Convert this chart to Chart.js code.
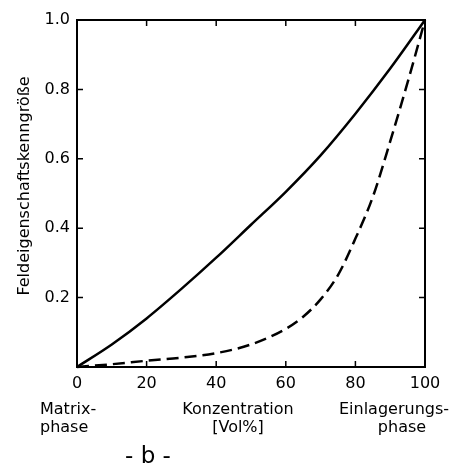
<!DOCTYPE html>
<html>
<head>
<meta charset="utf-8">
<script src="https://cdn.jsdelivr.net/npm/chart.js@4/dist/chart.umd.min.js"></script>
<style>
    html, body { margin: 0; padding: 0; background: #fff; }
    #wrap { width: 468px; height: 465px; position: relative; }
</style>
</head>
<body>
<div id="wrap"><canvas id="chart"></canvas></div>
<script>
// Concentration axis (Vol%)
const concentration = [0, 10, 20, 30, 40, 50, 60, 70, 80, 90, 100];
// Solid curve values
const solidValues = [0, 0.065, 0.14, 0.225, 0.315, 0.41, 0.505, 0.61, 0.73, 0.86, 1.0];

// Dashed curve
const dashedX = [0, 10, 20, 30, 40, 50, 60, 65, 70, 75, 80, 85, 90, 95, 100];
const dashedValues = [0, 0.008, 0.018, 0.027, 0.04, 0.065, 0.11, 0.145, 0.195, 0.265, 0.37, 0.49, 0.65, 0.82, 1.0];

const xTicks = [0, 20, 40, 60, 80, 100];
const yTicks = [0.2, 0.4, 0.6, 0.8, 1.0];

const yTitle = 'Feldeigenschaftskenngröße';
const bottomLabels = [
    { lines: ['Matrix-', 'phase'], x: [40, 40], align: 'left' },
    { lines: ['Konzentration', '[Vol%]'], x: [238, 238], align: 'center' },
    { lines: ['Einlagerungs-', 'phase'], x: [394, 402], align: 'center' }
];
const subLabel = '- b -';

const FONT = '"DejaVu Sans", sans-serif';

function toPoints(xs, ys) {
    return xs.map((x, i) => ({ x: x, y: ys[i] }));
}

// Frame, inward ticks and the free text around the plot
const framePlugin = {
    id: 'frame',
    afterDraw(chart) {
        const ctx = chart.ctx;
        const area = chart.chartArea;
        const xs = chart.scales.x;
        const ys = chart.scales.y;
        ctx.save();
        ctx.strokeStyle = '#000';
        ctx.lineWidth = 2;
        ctx.strokeRect(area.left, area.top, area.right - area.left, area.bottom - area.top);

        ctx.lineWidth = 1.5;
        const t = 6;
        xTicks.slice(1, -1).forEach(v => {
            const px = xs.getPixelForValue(v);
            ctx.beginPath();
            ctx.moveTo(px, area.bottom);
            ctx.lineTo(px, area.bottom - t);
            ctx.moveTo(px, area.top);
            ctx.lineTo(px, area.top + t);
            ctx.stroke();
        });
        yTicks.slice(0, -1).forEach(v => {
            const py = ys.getPixelForValue(v);
            ctx.beginPath();
            ctx.moveTo(area.left, py);
            ctx.lineTo(area.left + t, py);
            ctx.moveTo(area.right, py);
            ctx.lineTo(area.right - t, py);
            ctx.stroke();
        });

        ctx.fillStyle = '#000';
        ctx.font = '16px ' + FONT;
        ctx.textBaseline = 'middle';
        bottomLabels.forEach(lbl => {
            ctx.textAlign = lbl.align;
            lbl.lines.forEach((line, i) => {
                ctx.fillText(line, lbl.x[i], 410 + i * 18);
            });
        });
        ctx.textAlign = 'center';
        ctx.font = '23px ' + FONT;
        ctx.fillText(subLabel, 148, 457);

        // rotated y title
        ctx.font = '16px ' + FONT;
        ctx.translate(25, 186);
        ctx.rotate(-Math.PI / 2);
        ctx.fillText(yTitle, 0, 0);
        ctx.restore();
    }
};

const ctx = document.getElementById('chart').getContext('2d');
new Chart(ctx, {
    type: 'line',
    data: {
        datasets: [
            {
                data: toPoints(concentration, solidValues),
                borderColor: '#000',
                borderWidth: 2.5,
                pointRadius: 0,
                cubicInterpolationMode: 'monotone',
                fill: false
            },
            {
                data: toPoints(dashedX, dashedValues),
                borderColor: '#000',
                borderWidth: 2.5,
                borderDash: [12, 6],
                pointRadius: 0,
                cubicInterpolationMode: 'monotone',
                fill: false
            }
        ]
    },
    options: {
        responsive: true,
        maintainAspectRatio: false,
        animation: false,
        clip: false,
        layout: { padding: { top: 20, right: 43, left: 0, bottom: 0 } },
        plugins: {
            legend: { display: false },
            tooltip: { enabled: false }
        },
        scales: {
            x: {
                type: 'linear',
                min: 0,
                max: 100,
                afterFit: s => { s.height = 98; },
                afterBuildTicks: s => { s.ticks = xTicks.map(v => ({ value: v })); },
                grid: { display: false, drawTicks: false },
                border: { display: false },
                ticks: {
                    color: '#000',
                    padding: 7,
                    font: { family: FONT, size: 16 },
                    maxRotation: 0
                }
            },
            y: {
                type: 'linear',
                min: 0,
                max: 1,
                afterFit: s => { s.width = 77; },
                afterBuildTicks: s => { s.ticks = yTicks.map(v => ({ value: v })); },
                grid: { display: false, drawTicks: false },
                border: { display: false },
                ticks: {
                    color: '#000',
                    padding: 7,
                    font: { family: FONT, size: 16 },
                    callback: v => v.toFixed(1)
                }
            }
        }
    },
    plugins: [framePlugin]
});
</script>
</body>
</html>
